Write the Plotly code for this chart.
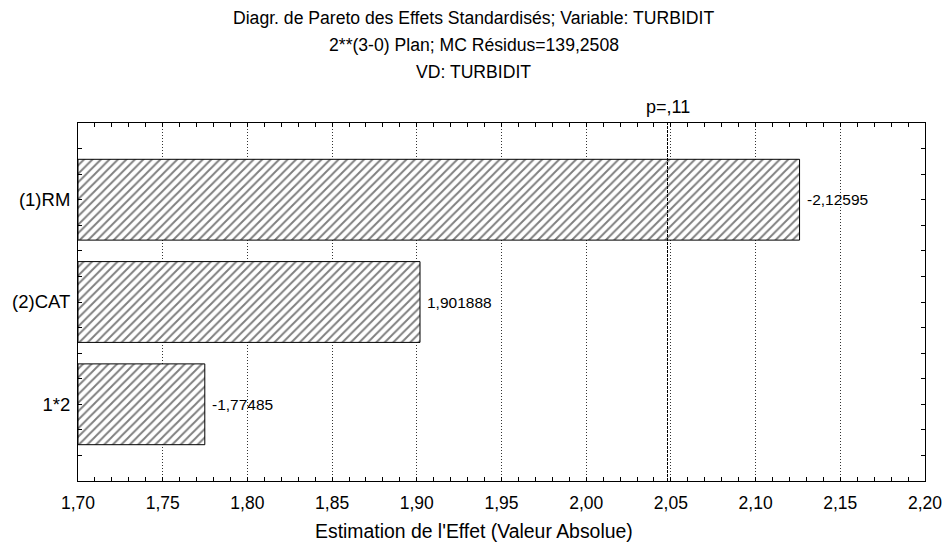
import plotly.graph_objects as go

# ---- data ----
effects = ["(1)RM", "(2)CAT", "1*2"]
effect_values = [-2.12595, 1.901888, -1.77485]   # signed standardized effects (labels)
p_critical = 2.048                                 # p=,11 reference line
p_label = "p=,11"
x_ticks = [1.70, 1.75, 1.80, 1.85, 1.90, 1.95, 2.00, 2.05, 2.10, 2.15, 2.20]
title_lines = [
    "Diagr. de Pareto des Effets Standardisés; Variable: TURBIDIT",
    "2**(3-0) Plan; MC Résidus=139,2508",
    "VD: TURBIDIT",
]
x_title = "Estimation de l'Effet (Valeur Absolue)"

abs_values = [abs(v) for v in effect_values]
positions = list(range(len(effects)))
labels = [str(v).replace(".", ",") for v in effect_values]

FONT = "Liberation Sans, Arial, Helvetica, sans-serif"

fig = go.Figure()
fig.add_trace(go.Bar(
    x=[v - x_ticks[0] for v in abs_values], y=positions, orientation="h",
    width=0.79, base=x_ticks[0],
    marker=dict(color="white", line=dict(color="black", width=1),
                pattern=dict(shape="/", fgcolor="black", bgcolor="white",
                             size=6, solidity=0.32)),
    hoverinfo="skip",
))

W, H = 947, 544
L, R, T, B = 78, 22, 123, 63

fig.update_layout(
    width=W, height=H,
    margin=dict(l=L, r=R, t=T, b=B, pad=0),
    paper_bgcolor="white", plot_bgcolor="white",
    font=dict(family=FONT, color="black", size=17),
    separators=", ",
    showlegend=False,
    bargap=0,
)
fig.update_xaxes(
    range=[x_ticks[0], x_ticks[-1]], tickvals=x_ticks, tickformat=".2f",
    ticks="inside", ticklen=4, tickcolor="black", tickwidth=1,
    showline=True, linecolor="black", linewidth=1, mirror="ticks",
    showgrid=True, gridcolor="#333", griddash="1px,2px", gridwidth=1,
    zeroline=False, tickfont=dict(size=17.5), ticklabelstandoff=6,
    automargin=False,
    minor=dict(dtick=0.01, tick0=1.70, ticks="inside", ticklen=4,
               tickcolor="black", showgrid=False),
)
fig.update_yaxes(
    range=[len(effects) - 0.25, -0.75], tickvals=positions, ticktext=effects,
    ticks="inside", ticklen=4, tickcolor="black", tickwidth=1,
    showline=True, linecolor="black", linewidth=1, mirror="ticks",
    showgrid=False, zeroline=False, tickfont=dict(size=18.5), ticklabelstandoff=3,
    automargin=False,
    minor=dict(dtick=0.25, tick0=0, ticks="inside", ticklen=4,
               tickcolor="black", showgrid=False),
)

# p line
fig.add_shape(type="line", xref="x", yref="paper", x0=p_critical, x1=p_critical,
              y0=0, y1=1, line=dict(color="black", width=1, dash="3px,1px"))
fig.add_annotation(x=p_critical, xref="x", y=1, yref="paper", text=p_label,
                   showarrow=False, xanchor="center", yanchor="middle", yshift=16,
                   font=dict(size=18))

# value labels
for pos, v, lab in zip(positions, abs_values, labels):
    fig.add_annotation(x=v, y=pos, xref="x", yref="y", text=lab, showarrow=False,
                       xanchor="left", yanchor="middle", xshift=5,
                       font=dict(size=15.5))

page_center = ((W / 2) - L) / (W - L - R)
# title lines
for i, line in enumerate(title_lines):
    fig.add_annotation(x=page_center, xref="paper", y=1, yref="paper", text=line,
                       showarrow=False, xanchor="center", yanchor="middle",
                       yshift=(T - 18) - i * 27, font=dict(size=17.6))
# x axis title
fig.add_annotation(x=page_center, xref="paper", y=0, yref="paper", text=x_title,
                   showarrow=False, xanchor="center", yanchor="middle",
                   yshift=-50, font=dict(size=19.4))

fig.write_html("out.html",
               config={"displayModeBar": False, "staticPlot": True},
               post_script="document.body.style.margin='0';"
                           "document.body.style.overflow='hidden';")
